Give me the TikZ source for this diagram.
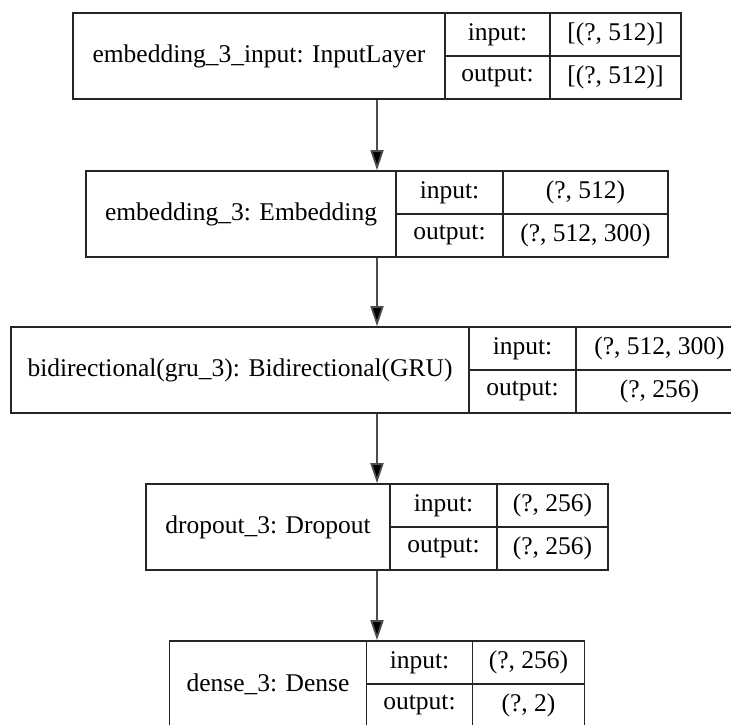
\documentclass[tikz,border=0pt]{standalone}
\usepackage{fontspec}
\setmainfont{Liberation Serif}
\usetikzlibrary{arrows.meta}
\tikzset{
  record/.style={draw=black!85, line width=1.6pt, minimum height=86pt, inner sep=0pt},
  cell/.style={draw=black!85, line width=1.6pt, minimum height=43pt, inner sep=0pt},
  link/.style={draw=black!70, line width=1.8pt, -{Triangle[length=20pt,width=13pt,fill=black]}},
}

\begin{document}
\begin{tikzpicture}[x=1pt, y=-1pt, font=\fontsize{25.5}{28}\selectfont]
                \useasboundingbox (0,0) rectangle (731,724);
                \fill[white] (0,0) rectangle (731,724);

                % embedding_3_input
                \node[record, minimum width=608pt] (rec1) at (377,56) {};
                \node (lab1) at (259,56) {embedding\_3\_input: InputLayer};
                \node[cell, minimum width=105pt] (in1) at (497.5,34.5) {input:};
                \node[cell, minimum width=105pt] (out1) at (497.5,77.5) {output:};
                \node[cell, minimum width=131pt] (inv1) at (615.5,34.5) {[(?, 512)]};
                \node[cell, minimum width=131pt] (outv1) at (615.5,77.5) {[(?, 512)]};

                % embedding_3
                \node[record, minimum width=582pt] (rec2) at (377,214) {};
                \node (lab2) at (241,214) {embedding\_3: Embedding};
                \node[cell, minimum width=107pt] (in2) at (449.5,192.5) {input:};
                \node[cell, minimum width=107pt] (out2) at (449.5,235.5) {output:};
                \node[cell, minimum width=165pt] (inv2) at (585.5,192.5) {(?, 512)};
                \node[cell, minimum width=165pt] (outv2) at (585.5,235.5) {(?, 512, 300)};

                % bidirectional
                \node[record, minimum width=732pt] (rec3) at (377,370) {};
                \node (lab3) at (240,370) {bidirectional(gru\_3): Bidirectional(GRU)};
                \node[cell, minimum width=107pt] (in3) at (522.5,348.5) {input:};
                \node[cell, minimum width=107pt] (out3) at (522.5,391.5) {output:};
                \node[cell, minimum width=167pt] (inv3) at (659.5,348.5) {(?, 512, 300)};
                \node[cell, minimum width=167pt] (outv3) at (659.5,391.5) {(?, 256)};

                % dropout_3
                \node[record, minimum width=462pt] (rec4) at (377,527) {};
                \node (lab4) at (268,527) {dropout\_3: Dropout};
                \node[cell, minimum width=107pt] (in4) at (443.5,505.5) {input:};
                \node[cell, minimum width=107pt] (out4) at (443.5,548.5) {output:};
                \node[cell, minimum width=111pt] (inv4) at (552.5,505.5) {(?, 256)};
                \node[cell, minimum width=111pt] (outv4) at (552.5,548.5) {(?, 256)};

                % dense_3
                \node[record, minimum width=415pt] (rec5) at (377,684) {};
                \node (lab5) at (268,684) {dense\_3: Dense};
                \node[cell, minimum width=106pt] (in5) at (419.5,662.5) {input:};
                \node[cell, minimum width=106pt] (out5) at (419.5,705.5) {output:};
                \node[cell, minimum width=112pt] (inv5) at (528.5,662.5) {(?, 256)};
                \node[cell, minimum width=112pt] (outv5) at (528.5,705.5) {(?, 2)};

                \draw[link] (rec1) -- (rec2);
                \draw[link] (rec2) -- (rec3);
                \draw[link] (rec3) -- (rec4);
                \draw[link] (rec4) -- (rec5);
            \end{tikzpicture}
\end{document}
